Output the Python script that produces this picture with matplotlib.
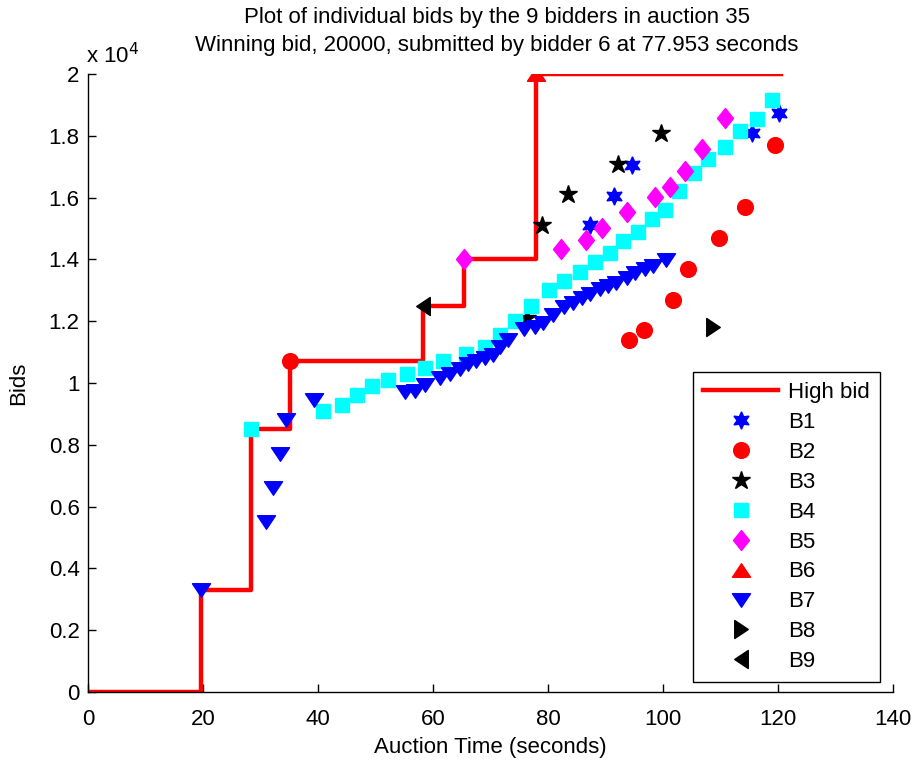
import matplotlib
matplotlib.use("Agg")
import matplotlib.pyplot as plt
from matplotlib.ticker import FuncFormatter, MultipleLocator
from matplotlib.path import Path

plt.rcParams['font.family'] = ['Liberation Sans', 'DejaVu Sans']

# High bid step line
high_t = [0, 19.7, 28.3, 35.2, 58.3, 65.3, 77.953, 120.5]
high_v = [0, 3300, 8500, 10700, 12500, 14000, 20000, 20000]

b1_t = [87.3, 91.4, 94.6, 115.4, 120.1]
b1_v = [15100, 16050, 17070, 18100, 18750]

b2_t = [35.2, 94.0, 96.7, 101.7, 104.4, 109.8, 114.3, 119.5]
b2_v = [10700, 11400, 11700, 12700, 13700, 14700, 15700, 17700]

b3_t = [76.3, 78.9, 83.4, 92.2, 99.6]
b3_v = [12100, 15100, 16100, 17100, 18100]

b4_t = [28.3, 40.8, 44.1, 46.8, 49.4, 52.2, 55.4, 58.6, 61.7, 65.8, 69.0, 71.7,
        74.3, 77.0, 80.2, 82.8, 85.6, 88.2, 90.7, 93.1, 95.7, 98.1, 100.3,
        102.8, 105.3, 107.9, 110.8, 113.4, 116.4, 118.9]
b4_v = [8500, 9100, 9300, 9600, 9900, 10100, 10300, 10500, 10700, 10950, 11150,
        11550, 12000, 12500, 13000, 13300, 13600, 13900, 14200, 14600, 14900,
        15300, 15600, 16200, 16800, 17250, 17650, 18150, 18550, 19150]

b5_t = [65.3, 82.2, 86.6, 89.3, 93.7, 98.6, 101.2, 103.8, 106.7, 110.8]
b5_v = [14000, 14330, 14630, 15030, 15540, 16030, 16330, 16860, 17560, 18560]

b6_t = [77.953]
b6_v = [20000]

b7_t = [19.7, 30.9, 32.2, 33.3, 34.5, 39.3, 55.1, 56.9, 58.6, 61.2, 63.0, 64.7,
        66.1, 67.5, 69.0, 70.4, 71.7, 73.1, 75.9, 77.7, 79.2, 80.9, 82.7, 84.4,
        85.9, 87.3, 89.0, 90.5, 91.9, 93.7, 95.1, 96.9, 98.3, 100.6]
b7_v = [3300, 5500, 6600, 7700, 8800, 9450, 9700, 9750, 9950, 10150, 10300,
        10450, 10600, 10700, 10800, 10900, 11150, 11400, 11750, 11800, 11950,
        12200, 12450, 12600, 12750, 12870, 13030, 13150, 13250, 13400, 13570,
        13680, 13800, 13980]

b8_t = [108.7]
b8_v = [11800]

b9_t = [58.3]
b9_v = [12500]

# MATLAB-like marker shapes
diamond = Path([(0, 1), (0.8, 0), (0, -1), (-0.8, 0), (0, 1)], closed=True)
tri_down = Path([(-1, 0.75), (1, 0.75), (0, -0.75), (-1, 0.75)], closed=True)
tri_up = Path([(-1, -0.75), (1, -0.75), (0, 0.75), (-1, -0.75)], closed=True)
tri_right = Path([(-0.75, 1), (-0.75, -1), (0.75, 0), (-0.75, 1)], closed=True)
tri_left = Path([(0.75, 1), (0.75, -1), (-0.75, 0), (0.75, 1)], closed=True)

fig = plt.figure(figsize=(9.15, 7.61), dpi=100)
ax = fig.add_axes([0.0962, 0.0907, 0.8798, 0.8121])

ax.plot(high_t, high_v, color='red', lw=3.2, drawstyle='steps-post',
        label='High bid', zorder=2)

series = [
    (b1_t, b1_v, 'B1', (6, 1, 0), 'blue', 12.5),
    (b2_t, b2_v, 'B2', 'o', 'red', 11.3),
    (b3_t, b3_v, 'B3', '*', 'black', 13.5),
    (b4_t, b4_v, 'B4', 's', 'cyan', 9.5),
    (b5_t, b5_v, 'B5', diamond, 'magenta', 14.4),
    (b6_t, b6_v, 'B6', tri_up, 'red', 13),
    (b7_t, b7_v, 'B7', tri_down, 'blue', 13),
    (b8_t, b8_v, 'B8', tri_right, 'black', 13),
    (b9_t, b9_v, 'B9', tri_left, 'black', 13),
]
for t, v, lab, m, c, ms in series:
    ax.plot(t, v, linestyle='none', marker=m, color=c, markerfacecolor=c,
            markeredgecolor=c, markersize=ms, label=lab, zorder=3)

FS = 16
ax.set_xlim(0, 140)
ax.set_ylim(0, 20000)
ax.xaxis.set_major_locator(MultipleLocator(20))
ax.yaxis.set_major_locator(MultipleLocator(2000))
ax.yaxis.set_major_formatter(FuncFormatter(lambda v, p: '%g' % (v / 1e4)))
ax.tick_params(direction='in', length=6, labelsize=FS, width=1)
ax.tick_params(axis='x', pad=12)
ax.tick_params(axis='y', pad=6)
for s in ['top', 'right']:
    ax.spines[s].set_visible(False)
for s in ['left', 'bottom']:
    ax.spines[s].set_linewidth(1)

ax.set_xlabel('Auction Time (seconds)', fontsize=FS, labelpad=5)
ax.set_ylabel('Bids', fontsize=FS, labelpad=14)

cx = 497 / 915
fig.text(cx, 1 - 17 / 761, 'Plot of individual bids by the 9 bidders in auction 35',
         fontsize=FS, ha='center', va='center')
fig.text(cx, 1 - 45 / 761, 'Winning bid, 20000, submitted by bidder 6 at 77.953 seconds',
         fontsize=FS, ha='center', va='center')
fig.text(86 / 915, 1 - 63 / 761, r'x 10$^4$', fontsize=FS, ha='left', va='baseline')

leg = ax.legend(loc='lower right', bbox_to_anchor=(0.984, 0.016), borderaxespad=0,
                fontsize=FS, frameon=True, fancybox=False, edgecolor='black',
                framealpha=1, handlelength=3.4, labelspacing=0.40, borderpad=0.45,
                handletextpad=0.45)
leg.get_frame().set_linewidth(1)

fig.savefig('out.png', dpi=100)
